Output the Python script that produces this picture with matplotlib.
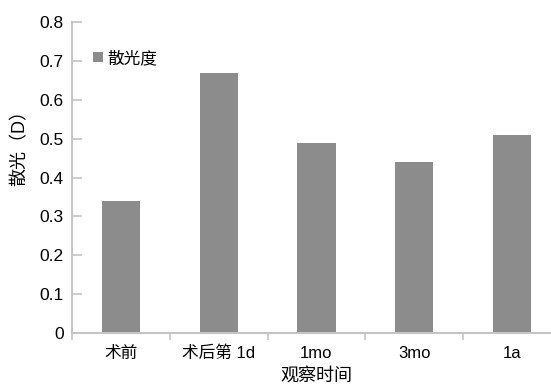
import numpy as np
import matplotlib
matplotlib.use("Agg")
import matplotlib.pyplot as plt

plt.rcParams['font.family'] = ['Liberation Sans', 'Noto Sans CJK SC']

# データ（観察時点ごとの散光度）
categories = ["术前", "术后第 1d", "1mo", "3mo", "1a"]
values = [0.34, 0.67, 0.49, 0.44, 0.51]
yticks = [0, 0.1, 0.2, 0.3, 0.4, 0.5, 0.6, 0.7, 0.8]
ytick_labels = ["0", "0.1", "0.2", "0.3", "0.4", "0.5", "0.6", "0.7", "0.8"]

BAR = "#8c8c8c"
AXIS = "#c4c4c4"

fig = plt.figure(figsize=(5.51, 3.87), dpi=100)
ax = fig.add_axes([72 / 551, 54 / 387, (561 - 72) / 551, (333 - 22) / 387])

x = np.arange(len(categories))
ax.bar(x, values, width=0.39, color=BAR, label="散光度", zorder=2)

ax.set_xlim(-0.5, len(categories) - 0.5)
ax.set_ylim(0, 0.8)

# 目盛り：カテゴリ境界に下向きの目盛り、ラベルは中央
ax.set_xticks(x)
ax.set_xticklabels(categories, fontsize=12)
ax.tick_params(axis="x", which="major", length=0, pad=9)
ax.set_xticks(np.arange(-0.5, len(categories), 1.0), minor=True)
ax.tick_params(axis="x", which="minor", length=5, direction="out", color=AXIS, width=1.2)

ax.set_yticks(yticks)
ax.set_yticklabels(ytick_labels, fontsize=12.5)
ax.tick_params(axis="y", length=7, direction="in", color=AXIS, width=1.2, pad=6)

for s in ["top", "right"]:
    ax.spines[s].set_visible(False)
for s in ["left", "bottom"]:
    ax.spines[s].set_color(AXIS)
    ax.spines[s].set_linewidth(1.5)

ax.set_ylabel("散光（D）", fontsize=13)
ax.yaxis.set_label_coords(-0.088, 0.61)
ax.set_xlabel("观察时间", fontsize=13)
ax.xaxis.set_label_coords(0.5, -0.113)

ax.legend(loc="upper left", bbox_to_anchor=(0.03, 0.93), frameon=False,
          fontsize=12, handlelength=0.55, handleheight=0.55, handletextpad=0.3,
          borderaxespad=0)

fig.savefig("out.png", dpi=100)
